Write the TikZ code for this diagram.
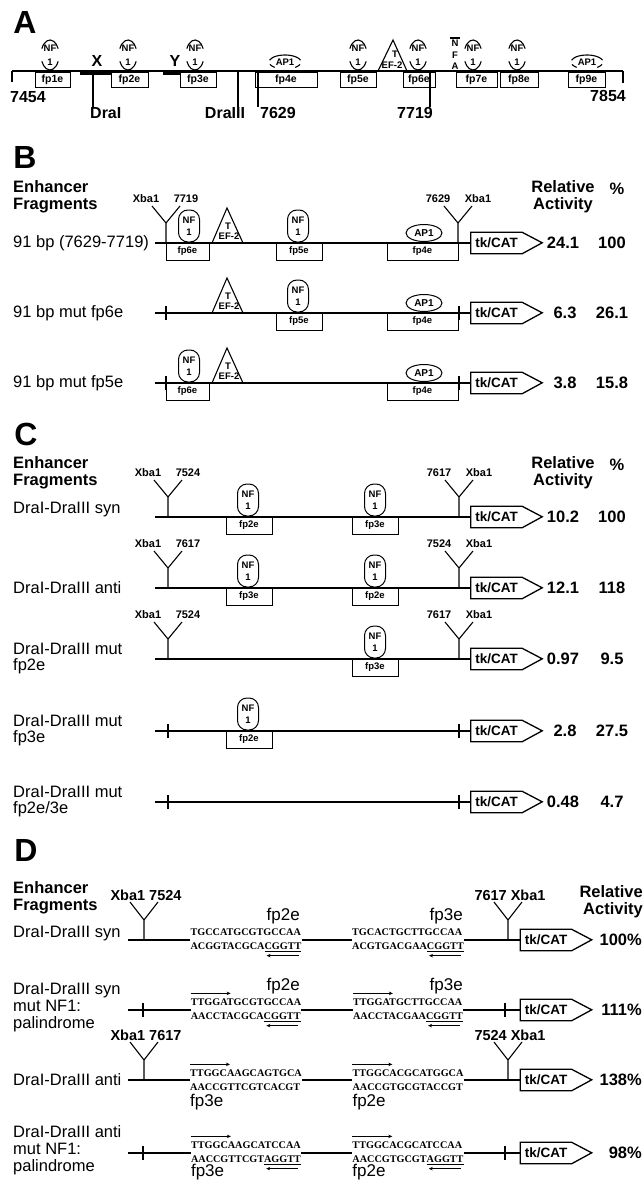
\documentclass[tikz,border=0pt]{standalone}
\usepackage{fontspec}
\setmainfont{Liberation Sans}
\newfontfamily\seqfont{Liberation Serif}
\usetikzlibrary{shapes.geometric,arrows.meta}

\tikzset{
  panel/.style={font=\fontsize{32}{32}\selectfont\bfseries, inner sep=0pt},
  head/.style={font=\fontsize{16.5}{17}\selectfont\bfseries, inner sep=0pt},
  rowlabel/.style={font=\fontsize{16.5}{16}\selectfont, inner sep=0pt, anchor=west, align=left},
  value/.style={font=\fontsize{16.5}{17}\selectfont\bfseries, inner sep=0pt},
  mapnum/.style={font=\fontsize{16}{16}\selectfont\bfseries, inner sep=0pt},
  dna/.style={line width=2.4pt},
  lin/.style={line width=1.1pt},
  fpbox/.style={draw, line width=0.9pt, inner sep=0pt, minimum height=17pt,
    font=\fontsize{9.5}{9.5}\selectfont\bfseries},
  fpboxA/.style={fpbox, minimum height=15pt, font=\fontsize{10.5}{10.5}\selectfont\bfseries},
  nfone/.style={draw, line width=1pt, rounded corners=9.5pt, minimum width=21pt,
    minimum height=32pt, inner sep=0pt, align=center,
    font=\fontsize{9.5}{12}\selectfont\bfseries},
  nfA/.style={inner sep=0pt, align=center, font=\fontsize{9.5}{14}\selectfont\bfseries},
  apone/.style={draw, ellipse, line width=1pt, minimum width=36pt, minimum height=17pt,
    inner sep=0pt, font=\fontsize{10}{10}\selectfont\bfseries},
  small/.style={inner sep=0pt, font=\fontsize{9.5}{11.5}\selectfont\bfseries},
  sitelabel/.style={inner sep=0pt, font=\fontsize{11}{11}\selectfont\bfseries},
  bigsitelabel/.style={inner sep=0pt, font=\fontsize{14.5}{14.5}\selectfont\bfseries},
  tkcat/.style={minimum width=51pt, minimum height=21pt, inner sep=0pt,
    font=\fontsize{13.5}{13.5}\selectfont\bfseries},
  seq/.style={inner sep=0pt, align=left, font=\seqfont\bfseries\fontsize{10.2}{14}\selectfont},
  fplabel/.style={inner sep=0pt, font=\fontsize{17}{17}\selectfont},
  seqarrow/.style={-{Stealth[length=4pt,width=3.5pt]}, line width=0.9pt},
  % Xba1 site: stem and two arms
  pics/ysite/.style args={#1/#2}{code={
    \draw[lin] (0,0) -- (0,-20) coordinate (-j) -- (-14,-37);
    \draw[lin] (-j) -- (14,-37);
    \node[sitelabel] (-l) at (-20,-44) {#1};
    \node[sitelabel] (-r) at (20,-44) {#2};
  }},
  pics/bigsite/.style={code={
    \draw[lin] (0,0) -- (0,-20) coordinate (-j) -- (-14,-38);
    \draw[lin] (-j) -- (14,-38);
    \node[bigsitelabel] (-l) at (2,-45) {#1};
  }},
  pics/tick/.style={code={\draw[lin] (0,-7) -- (0,7);}},
  pics/tef/.style={code={
    \draw[lin] (-15,0) -- (0,-35) -- (16,0);
    \node[small] (-t) at (1,-17) {T};
    \node[small] (-e) at (2,-7) {EF-2};
  }},
  pics/tkcat/.style={code={
    \node[tkcat] (-box) at (0,0) {tk/CAT};
    \draw[line width=1.3pt] (-box.north west) -- (-box.north east) -- ++(20,10.5)
      -- (-box.south east) -- (-box.south west) -- cycle;
  }}
}

\begin{document}
\begin{tikzpicture}[x=1pt, y=-1pt]
  \useasboundingbox (0,0) rectangle (644,1180);

  % ===== A: map of the region
  \node[panel] (pa) at (25,22) {A};
  \coordinate (a0) at (12,71);
  \coordinate (a1) at (623,71);
  \draw[dna] (a0) -- (a1);
  \draw[lin] (a0) -- ++(0,11);
  \draw[lin] (a1) -- ++(0,12);
  \node[mapnum] (n7454) at (28,97) {7454};
  \node[mapnum] (n7854) at (608,96) {7854};
  % deleted stretches X and Y
  \draw[line width=3pt] (80,73.5) -- (112,73.5);
  \draw[line width=3pt] (163,73.5) -- (180,73.5);
  \node[mapnum] (px) at (97,61) {X};
  \node[mapnum] (py) at (175,61) {Y};
  % footprint boxes
  \foreach \f/\xa/\xb in {fp1e/35/70, fp2e/111/148, fp3e/180/216, fp4e/255/317,
      fp5e/340/376, fp6e/403/435, fp7e/456/497, fp8e/500/538, fp9e/568/605}
    \node[fpboxA, minimum width={\xb-\xa}] (a\f) at ({(\xa+\xb)/2},79.5) {\f};
  % NF1 sites
  \foreach \x in {50,128,195,358,418,473,517} {
    \draw[lin] (\x,55) ++(205:9 and 15) arc (205:335:9 and 15);
    \draw[lin] (\x,55) ++(25:9 and 15) arc (25:155:9 and 15);
    \node[nfA] (anf\x) at (\x,55) {NF\\1};
  }
  % AP1 sites
  \foreach \x in {285,587} {
    \draw[lin] (\x,62) ++(195:16 and 7) arc (195:345:16 and 7);
    \draw[lin] (\x,62) ++(20:16 and 7) arc (20:50:16 and 7);
    \draw[lin] (\x,62) ++(130:16 and 7) arc (130:160:16 and 7);
    \node[small] (aap\x) at (\x,62) {AP1};
  }
  % TEF-2 and NFA
  \draw[lin] (378,71) -- (393,40) -- (407,71);
  \node[small] (at) at (395,54) {T};
  \node[small] (aef) at (392,65) {EF-2};
  \node[small, align=center] (anfa) at (455,55) {N\\F\\A};
  \draw[lin] ([shift={(-1,-2)}]anfa.north west) -- ([shift={(1,-2)}]anfa.north east);
  % cut sites and end points
  \coordinate (s1) at (93,72);
  \coordinate (s2) at (238,72);
  \coordinate (s3) at (258,72);
  \coordinate (s4) at (430,72);
  \node[mapnum, anchor=north west] (dra1) at (90,107) {DraI};
  \node[mapnum] (dra3) at (225,113) {DraIII};
  \node[mapnum, anchor=north west] (n7629) at (260,107) {7629};
  \node[mapnum, anchor=north east] (n7719) at (433,107) {7719};
  \draw[lin] (s1) -- (s1 |- dra1.north);
  \draw[lin] (s2) -- (s2 |- dra3.north);
  \draw[lin] (s3) -- (s3 |- n7629.north);
  \draw[lin] (s4) -- (s4 |- n7719.north);

  % ===== B: 91 bp fragment
  \node[panel] (pb) at (25,157) {B};
  \node[head, anchor=west, align=left] (bhead) at (13,197) {Enhancer\\Fragments};
  \node[head, align=center] (bact) at (563,197) {Relative\\Activity};
  \node[head] (bpct) at (617,189) {\%};
  % row 1
  \node[rowlabel] (b1l) at (13,243) {91 bp (7629-7719)};
  \coordinate (b1s) at (155,243);
  \pic (b1tk) at (496.5,243) {tkcat};
  \draw[dna] (b1s) -- (b1tk-box.west);
  \pic (b1x) at (166,243) {ysite=Xba1/7719};
  \pic (b1y) at (458,243) {ysite=7629/Xba1};
  \node[nfone] (b1n6) at (189,226) {NF\\1};
  \node[fpbox, minimum width=43] (b1f6) at (187.5,251.5) {fp6e};
  \pic (b1t) at (227,243) {tef};
  \node[nfone] (b1n5) at (298,226) {NF\\1};
  \node[fpbox, minimum width=46] (b1f5) at (299,251.5) {fp5e};
  \node[apone] (b1a) at (424,233) {AP1};
  \node[fpbox, minimum width=71] (b1f4) at (422.5,251.5) {fp4e};
  \node[value] (b1v) at (563,243) {24.1};
  \node[value] (b1p) at (612,243) {100};
  % row 2
  \node[rowlabel] (b2l) at (13,313) {91 bp mut fp6e};
  \coordinate (b2s) at (155,313);
  \pic (b2tk) at (496.5,313) {tkcat};
  \draw[dna] (b2s) -- (b2tk-box.west);
  \pic (b2k1) at (166,313) {tick};
  \pic (b2k2) at (459,313) {tick};
  \pic (b2t) at (227,313) {tef};
  \node[nfone] (b2n5) at (298,296) {NF\\1};
  \node[fpbox, minimum width=46] (b2f5) at (299,321.5) {fp5e};
  \node[apone] (b2a) at (424,303) {AP1};
  \node[fpbox, minimum width=71] (b2f4) at (422.5,321.5) {fp4e};
  \node[value] (b2v) at (565,313) {6.3};
  \node[value] (b2p) at (612,313) {26.1};
  % row 3
  \node[rowlabel] (b3l) at (13,383) {91 bp mut fp5e};
  \coordinate (b3s) at (155,383);
  \pic (b3tk) at (496.5,383) {tkcat};
  \draw[dna] (b3s) -- (b3tk-box.west);
  \pic (b3k1) at (166,383) {tick};
  \pic (b3k2) at (459,383) {tick};
  \node[nfone] (b3n6) at (189,366) {NF\\1};
  \node[fpbox, minimum width=43] (b3f6) at (187.5,391.5) {fp6e};
  \pic (b3t) at (227,383) {tef};
  \node[apone] (b3a) at (424,373) {AP1};
  \node[fpbox, minimum width=71] (b3f4) at (422.5,391.5) {fp4e};
  \node[value] (b3v) at (565,383) {3.8};
  \node[value] (b3p) at (612,383) {15.8};

  % ===== C: DraI-DraIII fragment
  \node[panel] (pc) at (26,434) {C};
  \node[head, anchor=west, align=left] (chead) at (13,473) {Enhancer\\Fragments};
  \node[head, align=center] (cact) at (563,473) {Relative\\Activity};
  \node[head] (cpct) at (617,465) {\%};
  % row 1
  \node[rowlabel] (c1l) at (13,510) {DraI-DraIII syn};
  \coordinate (c1s) at (155,517);
  \pic (c1tk) at (496.5,517) {tkcat};
  \draw[dna] (c1s) -- (c1tk-box.west);
  \pic (c1x) at (168,517) {ysite=Xba1/7524};
  \pic (c1y) at (459,517) {ysite=7617/Xba1};
  \node[nfone] (c1na) at (248,500) {NF\\1};
  \node[fpbox, minimum width=46] (c1fa) at (249,525.5) {fp2e};
  \node[nfone] (c1nb) at (375,500) {NF\\1};
  \node[fpbox, minimum width=46] (c1fb) at (375,525.5) {fp3e};
  \node[value] (c1v) at (563,517) {10.2};
  \node[value] (c1p) at (612,517) {100};
  % row 2
  \node[rowlabel] (c2l) at (13,588) {DraI-DraIII anti};
  \coordinate (c2s) at (155,588);
  \pic (c2tk) at (496.5,588) {tkcat};
  \draw[dna] (c2s) -- (c2tk-box.west);
  \pic (c2x) at (168,588) {ysite=Xba1/7617};
  \pic (c2y) at (459,588) {ysite=7524/Xba1};
  \node[nfone] (c2na) at (248,571) {NF\\1};
  \node[fpbox, minimum width=46] (c2fa) at (249,596.5) {fp3e};
  \node[nfone] (c2nb) at (375,571) {NF\\1};
  \node[fpbox, minimum width=46] (c2fb) at (375,596.5) {fp2e};
  \node[value] (c2v) at (563,588) {12.1};
  \node[value] (c2p) at (612,588) {118};
  % row 3
  \node[rowlabel] (c3l) at (13,659) {DraI-DraIII mut\\fp2e};
  \coordinate (c3s) at (155,659);
  \pic (c3tk) at (496.5,659) {tkcat};
  \draw[dna] (c3s) -- (c3tk-box.west);
  \pic (c3x) at (168,659) {ysite=Xba1/7524};
  \pic (c3y) at (459,659) {ysite=7617/Xba1};
  \node[nfone] (c3nb) at (375,642) {NF\\1};
  \node[fpbox, minimum width=46] (c3fb) at (375,667.5) {fp3e};
  \node[value] (c3v) at (563,659) {0.97};
  \node[value] (c3p) at (612,659) {9.5};
  % row 4
  \node[rowlabel] (c4l) at (13,731) {DraI-DraIII mut\\fp3e};
  \coordinate (c4s) at (155,731);
  \pic (c4tk) at (496.5,731) {tkcat};
  \draw[dna] (c4s) -- (c4tk-box.west);
  \pic (c4k1) at (168,731) {tick};
  \pic (c4k2) at (459,731) {tick};
  \node[nfone] (c4na) at (248,714) {NF\\1};
  \node[fpbox, minimum width=46] (c4fa) at (249,739.5) {fp2e};
  \node[value] (c4v) at (565,731) {2.8};
  \node[value] (c4p) at (612,731) {27.5};
  % row 5
  \node[rowlabel] (c5l) at (13,802) {DraI-DraIII mut\\fp2e/3e};
  \coordinate (c5s) at (155,802);
  \pic (c5tk) at (496.5,802) {tkcat};
  \draw[dna] (c5s) -- (c5tk-box.west);
  \pic (c5k1) at (168,802) {tick};
  \pic (c5k2) at (459,802) {tick};
  \node[value] (c5v) at (563,802) {0.48};
  \node[value] (c5p) at (612,802) {4.7};

  % ===== D: NF1 palindromes
  \node[panel] (pd) at (26,850) {D};
  \node[head, anchor=west, align=left] (dhead) at (13,898) {Enhancer\\Fragments};
  \node[head, anchor=east, align=right] (dact) at (643,902) {Relative\\Activity};
  % row 1
  \node[rowlabel] (d1l) at (13,934) {DraI-DraIII syn};
  \coordinate (d1s) at (128,940);
  \node[seq] (d1a) at (246,940) {TGCCATGCGTGCCAA\\ACGGTACGCA\underline{CGGTT}};
  \node[seq] (d1b) at (408,940) {TGCACTGCTTGCCAA\\ACGTGACGAA\underline{CGGTT}};
  \pic (d1tk) at (546,940) {tkcat};
  \draw[dna] (d1s) -- (d1a.west |- d1s);
  \draw[dna] (d1a.east |- d1s) -- (d1b.west |- d1s);
  \draw[dna] (d1b.east |- d1s) -- (d1tk-box.west);
  \pic (d1x) at (144,940) {bigsite=Xba1 7524};
  \pic (d1y) at (508,940) {bigsite=7617 Xba1};
  \node[fplabel, anchor=east] (d1fa) at (300,916) {fp2e};
  \node[fplabel, anchor=east] (d1fb) at (463,916) {fp3e};
  \draw[seqarrow] ([shift={(-3,4)}]d1a.south east) -- ++(-32,0);
  \draw[seqarrow] ([shift={(-3,4)}]d1b.south east) -- ++(-32,0);
  \node[value, anchor=east] (d1p) at (642,940) {100\%};
  % row 2
  \node[rowlabel, font=\fontsize{16.5}{17}\selectfont] (d2l) at (13,1008) {DraI-DraIII syn\\mut NF1:\\palindrome};
  \coordinate (d2s) at (128,1010);
  \node[seq] (d2a) at (246,1010) {TTGGATGCGTGCCAA\\AACCTACGCA\underline{CGGTT}};
  \node[seq] (d2b) at (408,1010) {TTGGATGCTTGCCAA\\AACCTACGAA\underline{CGGTT}};
  \pic (d2tk) at (546,1010) {tkcat};
  \draw[dna] (d2s) -- (d2a.west |- d2s);
  \draw[dna] (d2a.east |- d2s) -- (d2b.west |- d2s);
  \draw[dna] (d2b.east |- d2s) -- (d2tk-box.west);
  \pic (d2k1) at (143,1010) {tick};
  \pic (d2k2) at (505,1010) {tick};
  \node[fplabel, anchor=east] (d2fa) at (300,986) {fp2e};
  \node[fplabel, anchor=east] (d2fb) at (463,986) {fp3e};
  \draw[seqarrow] ([shift={(0,-5)}]d2a.north west) -- ++(40,0);
  \draw[seqarrow] ([shift={(0,-5)}]d2b.north west) -- ++(40,0);
  \draw[seqarrow] ([shift={(-3,4)}]d2a.south east) -- ++(-32,0);
  \draw[seqarrow] ([shift={(-3,4)}]d2b.south east) -- ++(-32,0);
  \node[value, anchor=east] (d2p) at (642,1010) {111\%};
  % row 3
  \node[rowlabel] (d3l) at (13,1080) {DraI-DraIII anti};
  \coordinate (d3s) at (128,1080);
  \node[seq] (d3a) at (246,1080) {TTGGCAAGCAGTGCA\\AACCGTTCGTCACGT};
  \node[seq] (d3b) at (408,1080) {TTGGCACGCATGGCA\\AACCGTGCGTACCGT};
  \pic (d3tk) at (546,1080) {tkcat};
  \draw[dna] (d3s) -- (d3a.west |- d3s);
  \draw[dna] (d3a.east |- d3s) -- (d3b.west |- d3s);
  \draw[dna] (d3b.east |- d3s) -- (d3tk-box.west);
  \pic (d3x) at (144,1080) {bigsite=Xba1 7617};
  \pic (d3y) at (508,1080) {bigsite=7524 Xba1};
  \node[fplabel, anchor=west] (d3fa) at (d3a.west |- 0,1102) {fp3e};
  \node[fplabel, anchor=west] (d3fb) at (d3b.west |- 0,1102) {fp2e};
  \draw[seqarrow] ([shift={(0,-5)}]d3a.north west) -- ++(40,0);
  \draw[seqarrow] ([shift={(0,-5)}]d3b.north west) -- ++(40,0);
  \node[value, anchor=east] (d3p) at (642,1080) {138\%};
  % row 4
  \node[rowlabel, font=\fontsize{16.5}{17}\selectfont] (d4l) at (13,1150) {DraI-DraIII anti\\mut NF1:\\palindrome};
  \coordinate (d4s) at (128,1153);
  \node[seq] (d4a) at (246,1153) {TTGGCAAGCATCCAA\\AACCGTTCGT\underline{AGGTT}};
  \node[seq] (d4b) at (408,1153) {TTGGCACGCATCCAA\\AACCGTGCGT\underline{AGGTT}};
  \pic (d4tk) at (546,1153) {tkcat};
  \draw[dna] (d4s) -- (d4a.west |- d4s);
  \draw[dna] (d4a.east |- d4s) -- (d4b.west |- d4s);
  \draw[dna] (d4b.east |- d4s) -- (d4tk-box.west);
  \pic (d4k1) at (143,1153) {tick};
  \pic (d4k2) at (505,1153) {tick};
  \node[fplabel, anchor=west] (d4fa) at (d4a.west |- 0,1172) {fp3e};
  \node[fplabel, anchor=west] (d4fb) at (d4b.west |- 0,1172) {fp2e};
  \draw[seqarrow] ([shift={(0,-5)}]d4a.north west) -- ++(40,0);
  \draw[seqarrow] ([shift={(0,-5)}]d4b.north west) -- ++(40,0);
  \draw[seqarrow] ([shift={(-3,4)}]d4a.south east) -- ++(-32,0);
  \draw[seqarrow] ([shift={(-3,4)}]d4b.south east) -- ++(-32,0);
  \node[value, anchor=east] (d4p) at (642,1153) {98\%};
\end{tikzpicture}
\end{document}
